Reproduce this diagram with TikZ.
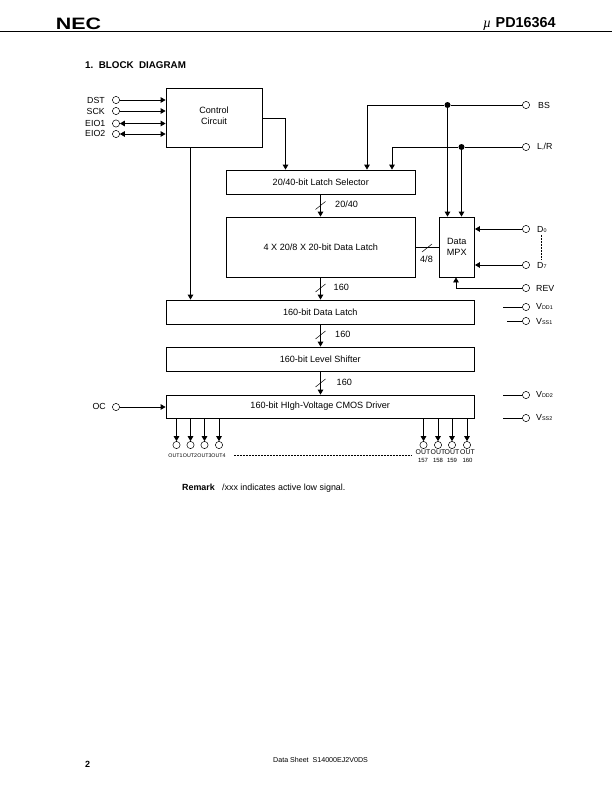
\documentclass[tikz,border=0pt]{standalone}
\usepackage{fontspec}
\setmainfont{Liberation Sans}
\usetikzlibrary{arrows.meta}
\tikzset{
  x=1bp,y=-1bp,
  blockbox/.style={draw,line width=.85bp,inner sep=0pt,font=\fontsize{9.1bp}{11bp}\selectfont,align=center},
  pin/.style={draw,circle,fill=white,minimum size=7.2bp,inner sep=0pt,line width=.5bp},
  jdot/.style={circle,fill=black,minimum size=6bp,inner sep=0pt},
  wire/.style={line width=.85bp},
  arr/.style={wire,-{Triangle[length=5bp,width=5.6bp]}},
  arrb/.style={wire,{Triangle[length=5bp,width=5.6bp]}-{Triangle[length=5bp,width=5.6bp]}},
  lbl/.style={inner sep=0pt,font=\fontsize{8.8bp}{10bp}\selectfont},
  buslbl/.style={inner sep=0pt,font=\fontsize{9.1bp}{10bp}\selectfont},
  tiny/.style={inner sep=0pt,font=\fontsize{5.3bp}{6.4bp}\selectfont},
  tinyb/.style={inner sep=0pt,font=\fontsize{6.9bp}{7bp}\selectfont},
  tinyc/.style={inner sep=0pt,font=\fontsize{6bp}{7bp}\selectfont},
  slash/.style={line width=.5bp},
}
\newcommand{\sm}[1]{{\fontsize{5.4bp}{6bp}\selectfont #1}}
\begin{document}
\begin{tikzpicture}
\useasboundingbox (0,0) rectangle (612,792);
% header
\coordinate (ruleL) at (0,31.5); \coordinate (ruleR) at (612,31.5);
\draw[line width=.9bp] (ruleL) -- (ruleR);
\node[inner sep=0pt,anchor=center] (nec) at (78.5,23.5) {\scalebox{1.3}[1]{\fontsize{16.5bp}{18bp}\selectfont\bfseries NEC}};
\node[inner sep=0pt,anchor=base west] (mu) at (483,28) {\fontsize{14bp}{14bp}\selectfont\itshape\fontspec{Liberation Serif}µ};
\node[inner sep=0pt,anchor=base west] (pd) at (495.5,28) {\fontsize{14.4bp}{16bp}\selectfont\bfseries PD16364};
\node[inner sep=0pt,anchor=base west] (title) at (85,68.5) {\fontsize{9.8bp}{11bp}\selectfont\bfseries 1.\ \ BLOCK\ \ DIAGRAM};
% blocks
\node[blockbox,minimum width=96bp,minimum height=59bp] (ctrl) at (214,117.5) {};
\node[inner sep=0pt,font=\fontsize{9.1bp}{11bp}\selectfont,align=center] (ctrlt) at (214,116) {Control\\Circuit};
\node[blockbox,minimum width=189.5bp,minimum height=24bp] (sel) at (320.75,182) {20/40-bit Latch Selector};
\node[blockbox,minimum width=189.5bp,minimum height=60bp] (dl) at (320.75,247) {4 X 20/8 X 20-bit Data Latch};
\node[blockbox,minimum width=35.5bp,minimum height=60bp] (mpx) at (456.75,247) {Data\\MPX};
\node[blockbox,minimum width=308.5bp,minimum height=24bp] (dl160) at (320.25,312) {160-bit Data Latch};
\node[blockbox,minimum width=308.5bp,minimum height=24bp] (ls) at (320.25,359) {160-bit Level Shifter};
\node[blockbox,minimum width=308.5bp,minimum height=23bp] (drv) at (320.25,406.5) {160-bit HIgh-Voltage CMOS Driver};
% left pins
\node[pin] (dst) at (116,100) {};
\node[pin] (sck) at (116,111) {};
\node[pin] (eio1) at (116,123.5) {};
\node[pin] (eio2) at (116,134) {};
\node[pin] (oc) at (116,407) {};
\node[lbl,anchor=east] (tdst) at (105,100) {DST};
\node[lbl,anchor=east] (tsck) at (105,111) {SCK};
\node[lbl,anchor=east] (teio1) at (105.5,123.5) {EIO1};
\node[lbl,anchor=east] (teio2) at (105.5,133.5) {EIO2};
\node[lbl,anchor=east] (toc) at (106,406) {OC};
\draw[arr] (dst) -- (ctrl.west |- dst);
\draw[arr] (sck) -- (ctrl.west |- sck);
\draw[arrb] (eio1) -- (ctrl.west |- eio1);
\draw[arrb] (eio2) -- (ctrl.west |- eio2);
\draw[arr] (oc) -- (drv.west |- oc);
% right pins
\node[pin] (bs) at (526,105) {};
\node[pin] (lr) at (526,147) {};
\node[pin] (d0) at (526,229) {};
\node[pin] (d7) at (526,265) {};
\node[pin] (rev) at (526,288) {};
\node[pin] (vdd1) at (526,307) {};
\node[pin] (vss1) at (526,321) {};
\node[pin] (vdd2) at (526,395) {};
\node[pin] (vss2) at (526,418) {};
\node[lbl,anchor=west] (tbs) at (538,105) {BS};
\node[lbl,anchor=west] (tlr) at (537,147) {L\sm{,}/R};
\node[lbl,anchor=west] (td0) at (537,229) {D\sm{0}};
\node[lbl,anchor=west] (td7) at (537,265) {D\sm{7}};
\node[lbl,anchor=west] (trev) at (536,288.5) {REV};
\node[lbl,anchor=west] (tvdd1) at (536,306.5) {V\sm{DD1}};
\node[lbl,anchor=west] (tvss1) at (536,321) {V\sm{SS1}};
\node[lbl,anchor=west] (tvdd2) at (536,394.5) {V\sm{DD2}};
\node[lbl,anchor=west] (tvss2) at (536,417.5) {V\sm{SS2}};
% BS / L,R wiring
\node[jdot] (jbs) at (447.5,105) {};
\node[jdot] (jlr) at (461.5,147) {};
\coordinate (bsL) at (367,105);
\coordinate (lrL) at (392,147);
\draw[wire] (bs) -- (jbs) -- (bsL);
\draw[wire] (lr) -- (jlr) -- (lrL);
\draw[arr] (bsL) -- (bsL |- sel.north);
\draw[arr] (lrL) -- (lrL |- sel.north);
\draw[arr] (jbs) -- (jbs |- mpx.north);
\draw[arr] (jlr) -- (jlr |- mpx.north);
\draw[arr] (d0) -- (mpx.east |- d0);
\draw[arr] (d7) -- (mpx.east |- d7);
\coordinate (revc) at (456,288);
\draw[wire] (rev) -- (revc);
\draw[arr] (revc) -- (revc |- mpx.south);
% control
\coordinate (ctrlOut) at (285.5,118);
\draw[wire] (ctrl.east |- ctrlOut) -- (ctrlOut);
\draw[arr] (ctrlOut) -- (ctrlOut |- sel.north);
\coordinate (ctrlDn) at (190.5,147);
\draw[arr] (ctrlDn) -- (ctrlDn |- dl160.north);
% buses
\draw[arr] (sel.south -| 320.5,0) -- (dl.north -| 320.5,0);
\draw[arr] (dl.south -| 320.5,0) -- (dl160.north -| 320.5,0);
\draw[arr] (dl160.south -| 320.5,0) -- (ls.north -| 320.5,0);
\draw[arr] (ls.south -| 320.5,0) -- (drv.north -| 320.5,0);
\draw[wire] (dl.east |- 0,247) -- (mpx.west |- 0,247);
\draw[slash] (315.5,209.5) -- (325.5,201.5);
\draw[slash] (315.5,292) -- (325.5,284);
\draw[slash] (315.5,339) -- (325.5,331);
\draw[slash] (315.5,387) -- (325.5,379);
\draw[slash] (422,252) -- (432,244);
\node[buslbl,anchor=west] (b1) at (335,204.5) {20/40};
\node[buslbl,anchor=west] (b2) at (333.5,287.5) {160};
\node[buslbl,anchor=west] (b3) at (335,334.5) {160};
\node[buslbl,anchor=west] (b4) at (336.5,382.5) {160};
\node[buslbl,anchor=center] (b5) at (426.5,259.5) {4/8};
% stubs
\coordinate (s1) at (503,307); \coordinate (s2) at (507,321);
\coordinate (s3) at (503,395); \coordinate (s4) at (503,418);
\draw[wire] (s1) -- (vdd1); \draw[wire] (s2) -- (vss1);
\draw[wire] (s3) -- (vdd2); \draw[wire] (s4) -- (vss2);
\coordinate (dots0) at (541.5,235); \coordinate (dots7) at (541.5,259);
\draw[line width=.5bp,densely dotted] (dots0) -- (dots7);
% outputs
\foreach \n/\x in {o1/176.5,o2/190.5,o3/204.5,o4/219,o5/423.5,o6/438,o7/452,o8/467}{
  \node[pin] (\n) at (\x,445) {};
  \draw[arr] (drv.south -| \n) -- (\n);
}
\node[tiny] (to1) at (175.5,455.5) {OUT1};
\node[tiny] (to2) at (190,455.5) {OUT2};
\node[tiny] (to3) at (204.5,455.5) {OUT3};
\node[tiny] (to4) at (218.5,455.5) {OUT4};
\foreach \n/\x/\t in {a5/423/157,a6/438/158,a7/452/159,a8/467.5/160}{
  \node[tinyb] (\n) at (\x,452.5) {OUT};
  \node[tinyc] (\n n) at (\x,460) {\t};
}
\coordinate (dl1) at (234,455.5); \coordinate (dl2) at (412,455.5);
\draw[line width=.5bp,densely dotted] (dl1) -- (dl2);
% remark
\node[inner sep=0pt,anchor=base west] (rem) at (182,490.5) {\fontsize{8.9bp}{10bp}\selectfont\bfseries Remark};
\node[inner sep=0pt,anchor=base west] (remt) at (222,490.5) {\fontsize{8.9bp}{10bp}\selectfont /xxx indicates active low signal.};
% footer
\node[inner sep=0pt,anchor=base west] (pg) at (85,767) {\fontsize{9bp}{10bp}\selectfont\bfseries 2};
\node[inner sep=0pt,anchor=base west] (foot) at (273,762.5) {\fontsize{7.1bp}{8bp}\selectfont Data Sheet\ \ S14000EJ2V0DS};
\end{tikzpicture}
\end{document}
